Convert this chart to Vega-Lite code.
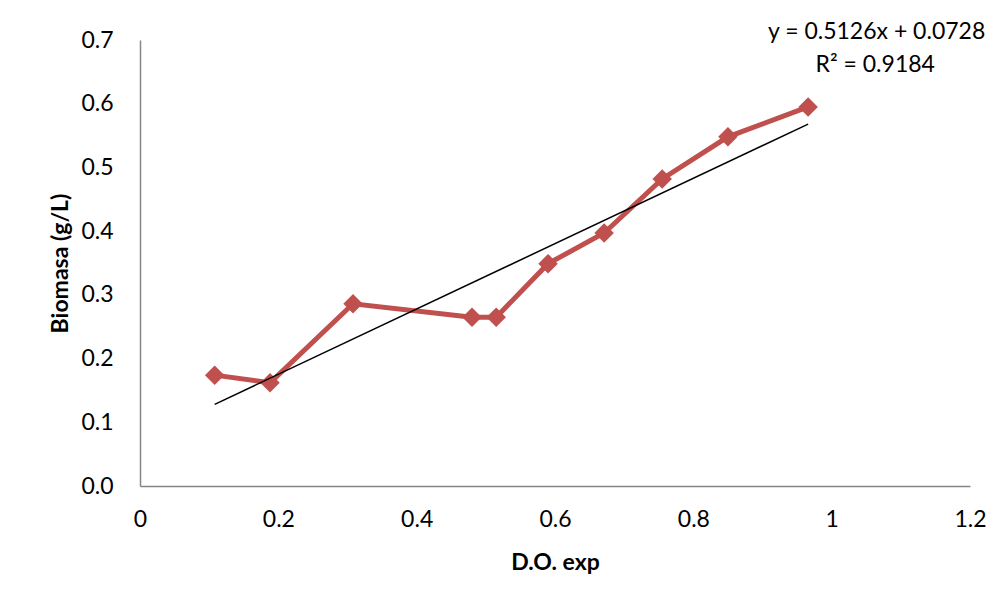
{
  "$schema": "https://vega.github.io/schema/vega-lite/v6.json",
  "width": 830,
  "height": 446,
  "autosize": "none",
  "padding": {"left": 140, "top": 40, "right": 32, "bottom": 117},
  "background": "white",
  "config": {
    "view": {"stroke": null},
    "font": "Lato",
    "axis": {
      "grid": false,
      "ticks": false,
      "domainColor": "#868686",
      "domainWidth": 1.5,
      "labelFont": "Lato",
      "labelFontSize": 23,
      "labelColor": "#000000",
      "titleFont": "Lato",
      "titleFontSize": 23,
      "titleFontWeight": "bold",
      "titleColor": "#000000"
    }
  },
  "datasets": {
    "obs": [
      {"x": 0.108, "y": 0.174},
      {"x": 0.188, "y": 0.162},
      {"x": 0.308, "y": 0.286},
      {"x": 0.480, "y": 0.265},
      {"x": 0.515, "y": 0.265},
      {"x": 0.590, "y": 0.349},
      {"x": 0.671, "y": 0.397},
      {"x": 0.755, "y": 0.482},
      {"x": 0.850, "y": 0.548},
      {"x": 0.966, "y": 0.595}
    ],
    "trend": [
      {"x": 0.108, "y": 0.1282},
      {"x": 0.966, "y": 0.5680}
    ],
    "labels": [
      {"x": 1.065, "y": 0.712, "t": "y = 0.5126x + 0.0728"},
      {"x": 1.063, "y": 0.660, "t": "R² = 0.9184"}
    ]
  },
  "layer": [
    {
      "data": {"name": "obs"},
      "mark": {"type": "line", "color": "#C0504D", "strokeWidth": 5},
      "encoding": {
        "x": {
          "field": "x", "type": "quantitative",
          "scale": {"domain": [0, 1.2], "nice": false},
          "axis": {"values": [0, 0.2, 0.4, 0.6, 0.8, 1, 1.2], "format": "~g", "title": "D.O. exp", "labelPadding": 22, "titlePadding": 20, "labelFlush": false}
        },
        "y": {
          "field": "y", "type": "quantitative",
          "scale": {"domain": [0, 0.7], "nice": false},
          "axis": {"values": [0, 0.1, 0.2, 0.3, 0.4, 0.5, 0.6, 0.7], "format": ".1f", "title": "Biomasa (g/L)", "labelPadding": 27, "titlePadding": 8, "labelFlush": false}
        }
      }
    },
    {
      "data": {"name": "obs"},
      "mark": {"type": "point", "shape": "diamond", "filled": true, "color": "#C0504D", "size": 380, "opacity": 1},
      "encoding": {
        "x": {"field": "x", "type": "quantitative"},
        "y": {"field": "y", "type": "quantitative"}
      }
    },
    {
      "data": {"name": "trend"},
      "mark": {"type": "line", "color": "#000000", "strokeWidth": 1.5},
      "encoding": {
        "x": {"field": "x", "type": "quantitative"},
        "y": {"field": "y", "type": "quantitative"}
      }
    },
    {
      "data": {"name": "labels"},
      "mark": {"type": "text", "fontSize": 23, "font": "Lato", "color": "#000000", "clip": false},
      "encoding": {
        "x": {"field": "x", "type": "quantitative"},
        "y": {"field": "y", "type": "quantitative"},
        "text": {"field": "t"}
      }
    }
  ]
}
